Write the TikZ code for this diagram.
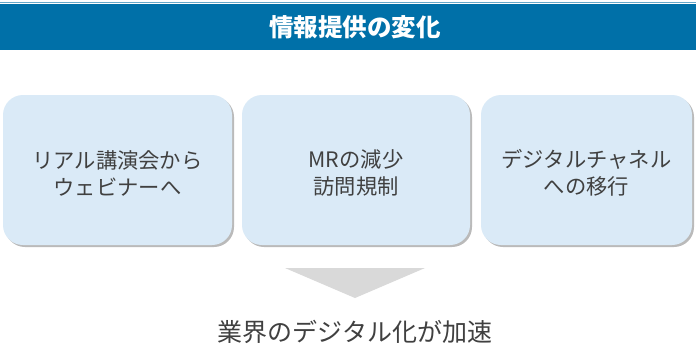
\documentclass[tikz,border=0pt]{standalone}
\usepackage{fontspec}
\setmainfont{Noto Sans CJK JP}
\usetikzlibrary{shadows}
\definecolor{hdr}{RGB}{0,112,168}
\definecolor{boxfill}{RGB}{218,234,247}
\definecolor{txt}{RGB}{64,64,64}
\definecolor{tri}{RGB}{217,217,217}
\tikzset{
  card/.style={rounded corners=20pt, fill=boxfill, draw=none,
    drop shadow={shadow xshift=2pt, shadow yshift=-2pt, fill=black!45, opacity=0.6}},
  cardtext/.style={text=txt, font=\fontsize{21.3}{27}\selectfont, align=center},
}
\begin{document}
\begin{tikzpicture}[x=1pt,y=-1pt]
\useasboundingbox (0,0) rectangle (696,360);
\fill[white] (0,0) rectangle (696,360);
\draw[hdr!60, line width=0.8pt] (0,2) -- (696,2);
\fill[hdr] (0,4) rectangle (696,50);
\node[text=white, font=\fontsize{24.5}{26}\selectfont\bfseries] (title) at (355,27) {情報提供の変化};
\path[card] (3,95) rectangle (232,245);
\path[card] (242,95) rectangle (470,245);
\path[card] (481,95) rectangle (692,245);
\node[cardtext] (t1) at (117.5,173) {リアル講演会から\\ウェビナーへ};
\node[cardtext] (t2) at (356,173) {MRの減少\\訪問規制};
\node[cardtext] (t3) at (586.5,173) {デジタルチャネル\\への移行};
\coordinate (a) at (285,268);
\coordinate (b) at (425,268);
\coordinate (c) at (355,298);
\fill[tri] (a) -- (b) -- (c) -- cycle;
\node[text=txt, font=\fontsize{25}{28}\selectfont] (bottom) at (355,332) {業界のデジタル化が加速};
\end{tikzpicture}
\end{document}
